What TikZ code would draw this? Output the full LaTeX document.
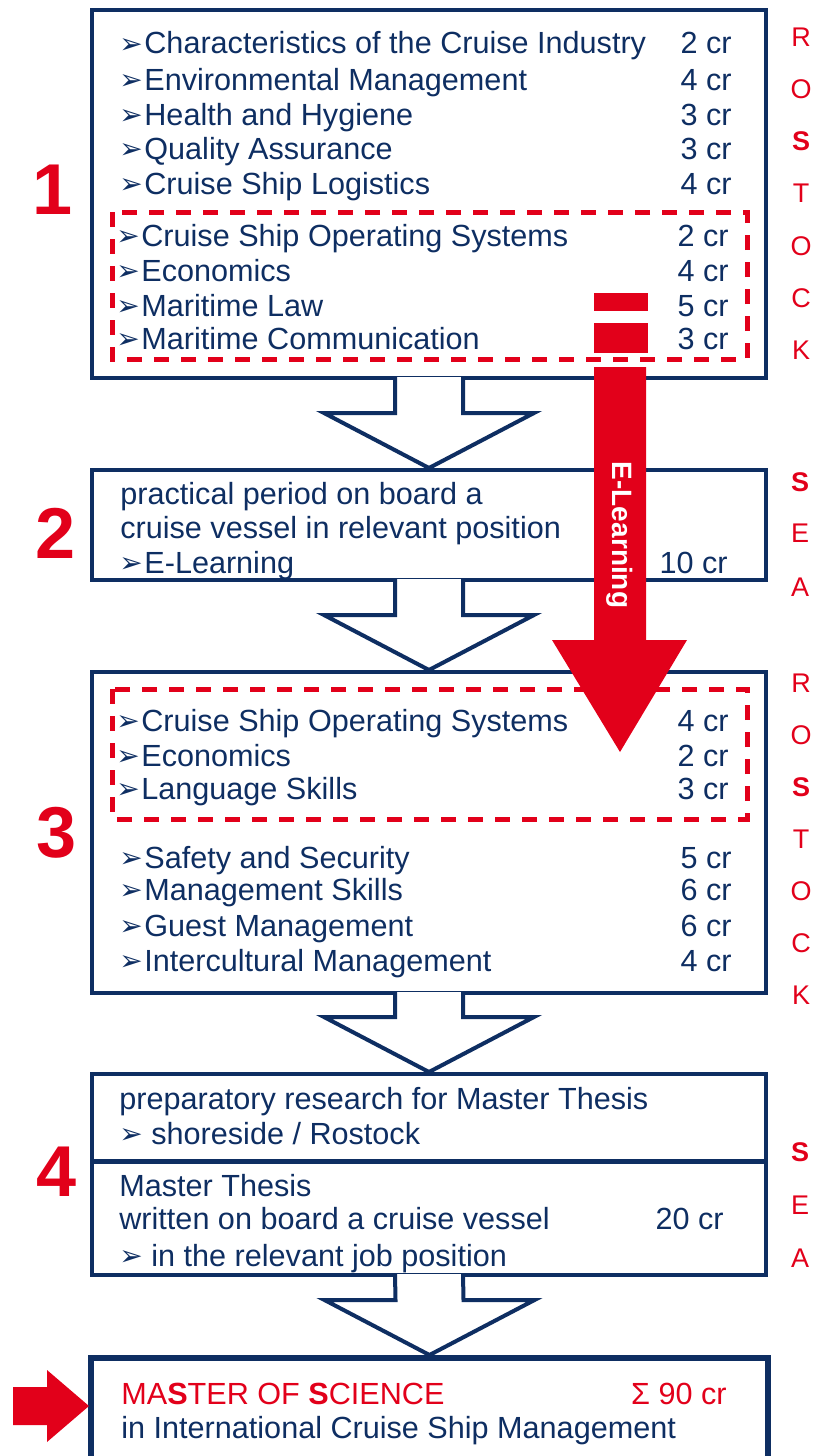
\documentclass[tikz,border=0pt]{standalone}
\usepackage{fontspec}
\setmainfont{Liberation Sans}
\newfontfamily\symfont{DejaVu Sans}
\usetikzlibrary{calc,fit}

\definecolor{navy}{RGB}{14,46,98}
\definecolor{cruisered}{RGB}{226,0,26}

\newcommand{\itm}{{\symfont\char"27A2}}
\newcommand{\hollowarrow}[2]{%
  \draw[hollow] ($(#1.south)+(-34,-3)$) -- ($(#2.north)+(-34,-55)$) -- ($(#2.north)+(-105,-55)$)
    -- (#2.north) -- ($(#2.north)+(105,-55)$) -- ($(#2.north)+(34,-55)$) -- ($(#1.south)+(34,-3)$);
}

\begin{document}
\begin{tikzpicture}[x=0.5pt, y=-0.5pt,
  box/.style={draw=navy, line width=2pt, inner sep=0pt},
  item/.style={anchor=base west, text=navy, inner sep=0pt, font=\fontsize{15.3}{18}\selectfont},
  bullet/.style={anchor=base west, text=navy, inner sep=0pt, font=\fontsize{14}{16}\selectfont},
  cred/.style={anchor=base east, text=navy, inner sep=0pt, font=\fontsize{15.3}{18}\selectfont},
  letter/.style={text=cruisered, inner sep=0pt, font=\fontsize{13.5}{15}\selectfont},
  number/.style={text=cruisered, inner sep=0pt, font=\fontsize{36}{40}\selectfont\bfseries},
  redbox/.style={draw=cruisered, line width=2.5pt, dash pattern=on 7.5pt off 6pt},
  hollow/.style={draw=navy, line width=2pt, fill=white}]
  \useasboundingbox (0,0) rectangle (814,1456);
  \clip (0,0) rectangle (814,1456);

  % boxes
  \node[box, fit={(92,10) (766,378)}] (box1) {};
  \node[box, fit={(92,470) (766,580)}] (box2) {};
  \node[box, fit={(92,672) (766,993)}] (box3) {};
  \node[box, fit={(92,1074) (766,1275)}] (box4) {};
  \node[box, line width=3pt, fit={(91,1358) (768,1500)}] (box5) {};
  \draw[navy, line width=2.5pt] (92,1161) -- (766,1161);

  \hollowarrow{box1}{box2}
  \hollowarrow{box2}{box3}
  \hollowarrow{box3}{box4}
  \hollowarrow{box4}{box5}

  % step 1
  \foreach \y/\t/\c [count=\i] in {43/Characteristics of the Cruise Industry/2, 79/Environmental Management/4,
      114/Health and Hygiene/3, 148/Quality Assurance/3, 183/Cruise Ship Logistics/4} {
    \node[bullet] (pa\i) at (119,\y+10) {\itm};
    \node[item] (ta\i) at (144,\y+11) {\t};
    \node[cred] (ca\i) at (732,\y+11) {\c\ cr};
  }
  \draw[redbox] (112,212) rectangle (747,359);
  \foreach \y/\t/\c [count=\i] in {235/Cruise Ship Operating Systems/2, 270/Economics/4,
      305/Maritime Law/5, 338/Maritime Communication/3} {
    \node[bullet] (pb\i) at (116,\y+10) {\itm};
    \node[item] (tb\i) at (141,\y+11) {\t};
    \node[cred] (cb\i) at (729,\y+11) {\c\ cr};
  }

  % step 2
  \node[item] (tc1) at (120,504) {practical period on board a};
  \node[item] (tc2) at (120,538) {cruise vessel in relevant position};
  \node[bullet] (pc3) at (119,572) {\itm};
  \node[item] (tc3) at (144,573) {E-Learning};
  \node[cred] (cc3) at (728,573) {10 cr};

  % step 3
  \draw[redbox] (112,689) rectangle (747,819);
  \foreach \y/\t/\c [count=\i] in {720/Cruise Ship Operating Systems/4, 755/Economics/2, 788/Language Skills/3} {
    \node[bullet] (pd\i) at (116,\y+10) {\itm};
    \node[item] (td\i) at (141,\y+11) {\t};
    \node[cred] (cd\i) at (729,\y+11) {\c\ cr};
  }
  \foreach \y/\t/\c [count=\i] in {857/Safety and Security/5, 889/Management Skills/6,
      925/Guest Management/6, 960/Intercultural Management/4} {
    \node[bullet] (pe\i) at (119,\y+10) {\itm};
    \node[item] (te\i) at (144,\y+11) {\t};
    \node[cred] (ce\i) at (732,\y+11) {\c\ cr};
  }

  % step 4
  \node[item] (tf1) at (119,1109) {preparatory research for Master Thesis};
  \node[bullet] (pf2) at (119,1143) {\itm};
  \node[item] (tf2) at (151,1144) {shoreside / Rostock};
  \node[item] (tf3) at (119,1196) {Master Thesis};
  \node[item] (tf4) at (119,1229) {written on board a cruise vessel};
  \node[cred] (cf4) at (724,1229) {20 cr};
  \node[bullet] (pf5) at (119,1265) {\itm};
  \node[item] (tf5) at (151,1266) {in the relevant job position};

  % degree
  \node[item, text=cruisered] (tg1) at (121,1404) {MA{\bfseries S}TER OF {\bfseries S}CIENCE};
  \node[cred, text=cruisered] (cg1) at (727,1404) {Σ 90 cr};
  \node[item] (tg2) at (121,1438) {in International Cruise Ship Management};
  \fill[cruisered] (13,1387) -- (47,1387) -- (47,1370) -- (89,1406) -- (47,1442) -- (47,1425) -- (13,1425) -- cycle;

  % e-learning arrow
  \coordinate (elstart) at (620,367);
  \coordinate (eltip) at (620,752);
  \fill[cruisered] (594,293) rectangle (648,311);
  \fill[cruisered] (594,323) rectangle (648,353);
  \fill[cruisered] ($(elstart)+(-26,0)$) -- ($(eltip)+(-26,-112)$) -- ($(eltip)+(-68,-112)$) -- (eltip)
    -- ($(eltip)+(67,-112)$) -- ($(eltip)+(26,-112)$) -- ($(elstart)+(26,0)$) -- cycle;
  \node[rotate=-90, text=white, inner sep=0pt, font=\fontsize{14}{16}\selectfont\bfseries] (ellabel) at (620,535) {E-Learning};

  % numbers
  \node[number] (n1) at (53,190) {1};
  \node[number] (n2) at (56,533) {2};
  \node[number] (n3) at (57,833) {3};
  \node[number] (n4) at (57,1172) {4};

  % places
  \foreach \l [count=\i] in {R,O,{\bfseries S},T,O,C,K} {
    \node[letter] (ra\i) at (801,37+52.2*\i-52.2) {\l};
    \node[letter] (rb\i) at (801,683+52*\i-52) {\l};
  }
  \foreach \l/\y [count=\i] in {{\bfseries S}/482,E/533,A/587} {
    \node[letter] (sa\i) at (800,\y) {\l};
  }
  \foreach \l/\y [count=\i] in {{\bfseries S}/1152,E/1205,A/1258} {
    \node[letter] (sb\i) at (800,\y) {\l};
  }
\end{tikzpicture}
\end{document}
